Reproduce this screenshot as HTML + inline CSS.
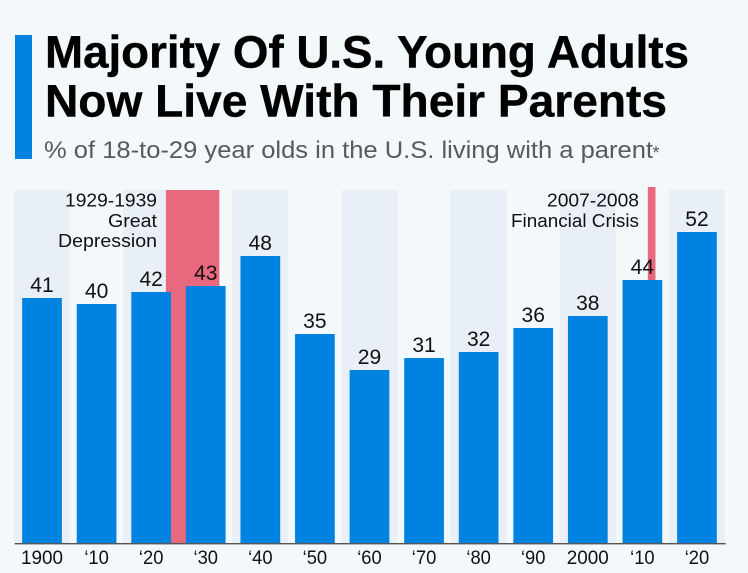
<!DOCTYPE html>
<html lang="en">
<head>
<meta charset="utf-8">
<title>Majority Of U.S. Young Adults Now Live With Their Parents</title>
<style>
html,body{margin:0;padding:0;background:#f3f8fb;}
svg{display:block;font-family:"Liberation Sans","DejaVu Sans",sans-serif;}
</style>
</head>
<body>
<svg id="chart" xmlns="http://www.w3.org/2000/svg" width="748" height="573" viewBox="0 0 748 573">
  <rect x="0" y="0" width="748" height="573" fill="#f3f8fb"/>
  <rect x="15" y="35" width="17" height="124" fill="#0082e0"/>
  <text x="45" y="67.5" font-size="45.5" font-weight="700" fill="#000" stroke="#000" stroke-width="0.4" textLength="644" lengthAdjust="spacingAndGlyphs">Majority Of U.S. Young Adults</text>
  <text x="45" y="116.5" font-size="45.5" font-weight="700" fill="#000" stroke="#000" stroke-width="0.4" textLength="622" lengthAdjust="spacingAndGlyphs">Now Live With Their Parents</text>
  <text x="44" y="158" font-size="24" fill="#525c61" textLength="609" lengthAdjust="spacingAndGlyphs">% of 18-to-29 year olds in the U.S. living with a parent</text>
  <text x="652.5" y="159" font-size="18" fill="#525c61">*</text>
  <g id="bands"></g>
  <g id="spans"></g>
  <g id="bars"></g>
  <g id="values"></g>
  <g id="ticks"></g>
  <rect x="14.7" y="543" width="711" height="1.4" fill="#555"/>
  <g font-size="18.5" fill="#111" text-anchor="end">
    <text x="157" y="206.5" textLength="92" lengthAdjust="spacingAndGlyphs">1929-1939</text>
    <text x="157" y="227" textLength="49" lengthAdjust="spacingAndGlyphs">Great</text>
    <text x="157" y="247" textLength="99" lengthAdjust="spacingAndGlyphs">Depression</text>
  </g>
  <g font-size="18.5" fill="#111" text-anchor="end">
    <text x="639" y="206.5" textLength="92" lengthAdjust="spacingAndGlyphs">2007-2008</text>
    <text x="639" y="227" textLength="128" lengthAdjust="spacingAndGlyphs">Financial Crisis</text>
  </g>
</svg>
<script>
const categories = ["1900", "‘10", "‘20", "‘30", "‘40", "‘50", "‘60", "‘70", "‘80", "‘90", "2000", "‘10", "‘20"];
const shares = [41, 40, 42, 43, 48, 35, 29, 31, 32, 36, 38, 44, 52];
const crisisStarts = [2.27, 11.1];
const crisisEnds = [3.25, 11.24];
const crisisTopValues = [59, 59.5];
const crisisBottomValues = [0, 44];

const NS = 'http://www.w3.org/2000/svg';
const BASE_Y = 544;
const UNIT_Y = 6;
const FIRST_X = 42;
const STEP_X = 54.58;
const BAR_W = 39.7;
const BAND_W = 56;
const BAND_TOP_VALUE = 59;

function xScale(i) { return FIRST_X + i * STEP_X; }
function yScale(v) { return BASE_Y - v * UNIT_Y; }

function make(tag, attrs) {
  const el = document.createElementNS(NS, tag);
  for (const k in attrs) el.setAttribute(k, attrs[k]);
  return el;
}

const bandsG = document.getElementById('bands');
const spansG = document.getElementById('spans');
const barsG = document.getElementById('bars');
const valuesG = document.getElementById('values');
const ticksG = document.getElementById('ticks');

categories.forEach(function (cat, i) {
  if (i % 2 === 0) {
    const band = make('rect', {
      x: xScale(i) - BAND_W / 2,
      y: yScale(BAND_TOP_VALUE),
      width: BAND_W,
      height: BASE_Y - yScale(BAND_TOP_VALUE),
      fill: '#e9eff6'
    });
    
    
    bandsG.appendChild(band);
  }
});

crisisStarts.forEach(function (start, i) {
  const x0 = xScale(start);
  const x1 = xScale(crisisEnds[i]);
  const y0 = yScale(crisisTopValues[i]);
  const y1 = yScale(crisisBottomValues[i]);
  const span = make('rect', {
    x: x0,
    y: y0,
    width: x1 - x0,
    height: y1 - y0,
    fill: '#e8697d'
  });
  
  
  spansG.appendChild(span);
});

shares.forEach(function (v, i) {
  const bar = make('rect', {
    x: xScale(i) - BAR_W / 2,
    y: yScale(v),
    width: BAR_W,
    height: BASE_Y - yScale(v),
    fill: '#0082e0'
  });
  
  
  barsG.appendChild(bar);

  const label = make('text', {
    x: xScale(i),
    y: yScale(v) - 6,
    'font-size': 21,
    fill: '#111',
    'text-anchor': 'middle',
    textLength: String(v).length * 11.7,
    lengthAdjust: 'spacingAndGlyphs'
  });
  
  
  label.textContent = v;
  valuesG.appendChild(label);
});

categories.forEach(function (cat, i) {
  const tick = make('text', {
    x: xScale(i),
    y: 564,
    'font-size': 19,
    fill: '#111',
    'text-anchor': 'middle',
    textLength: cat.length === 4 ? 42 : 24.5,
    lengthAdjust: 'spacingAndGlyphs'
  });
  
  
  tick.textContent = cat;
  ticksG.appendChild(tick);
});
</script>
</body>
</html>
